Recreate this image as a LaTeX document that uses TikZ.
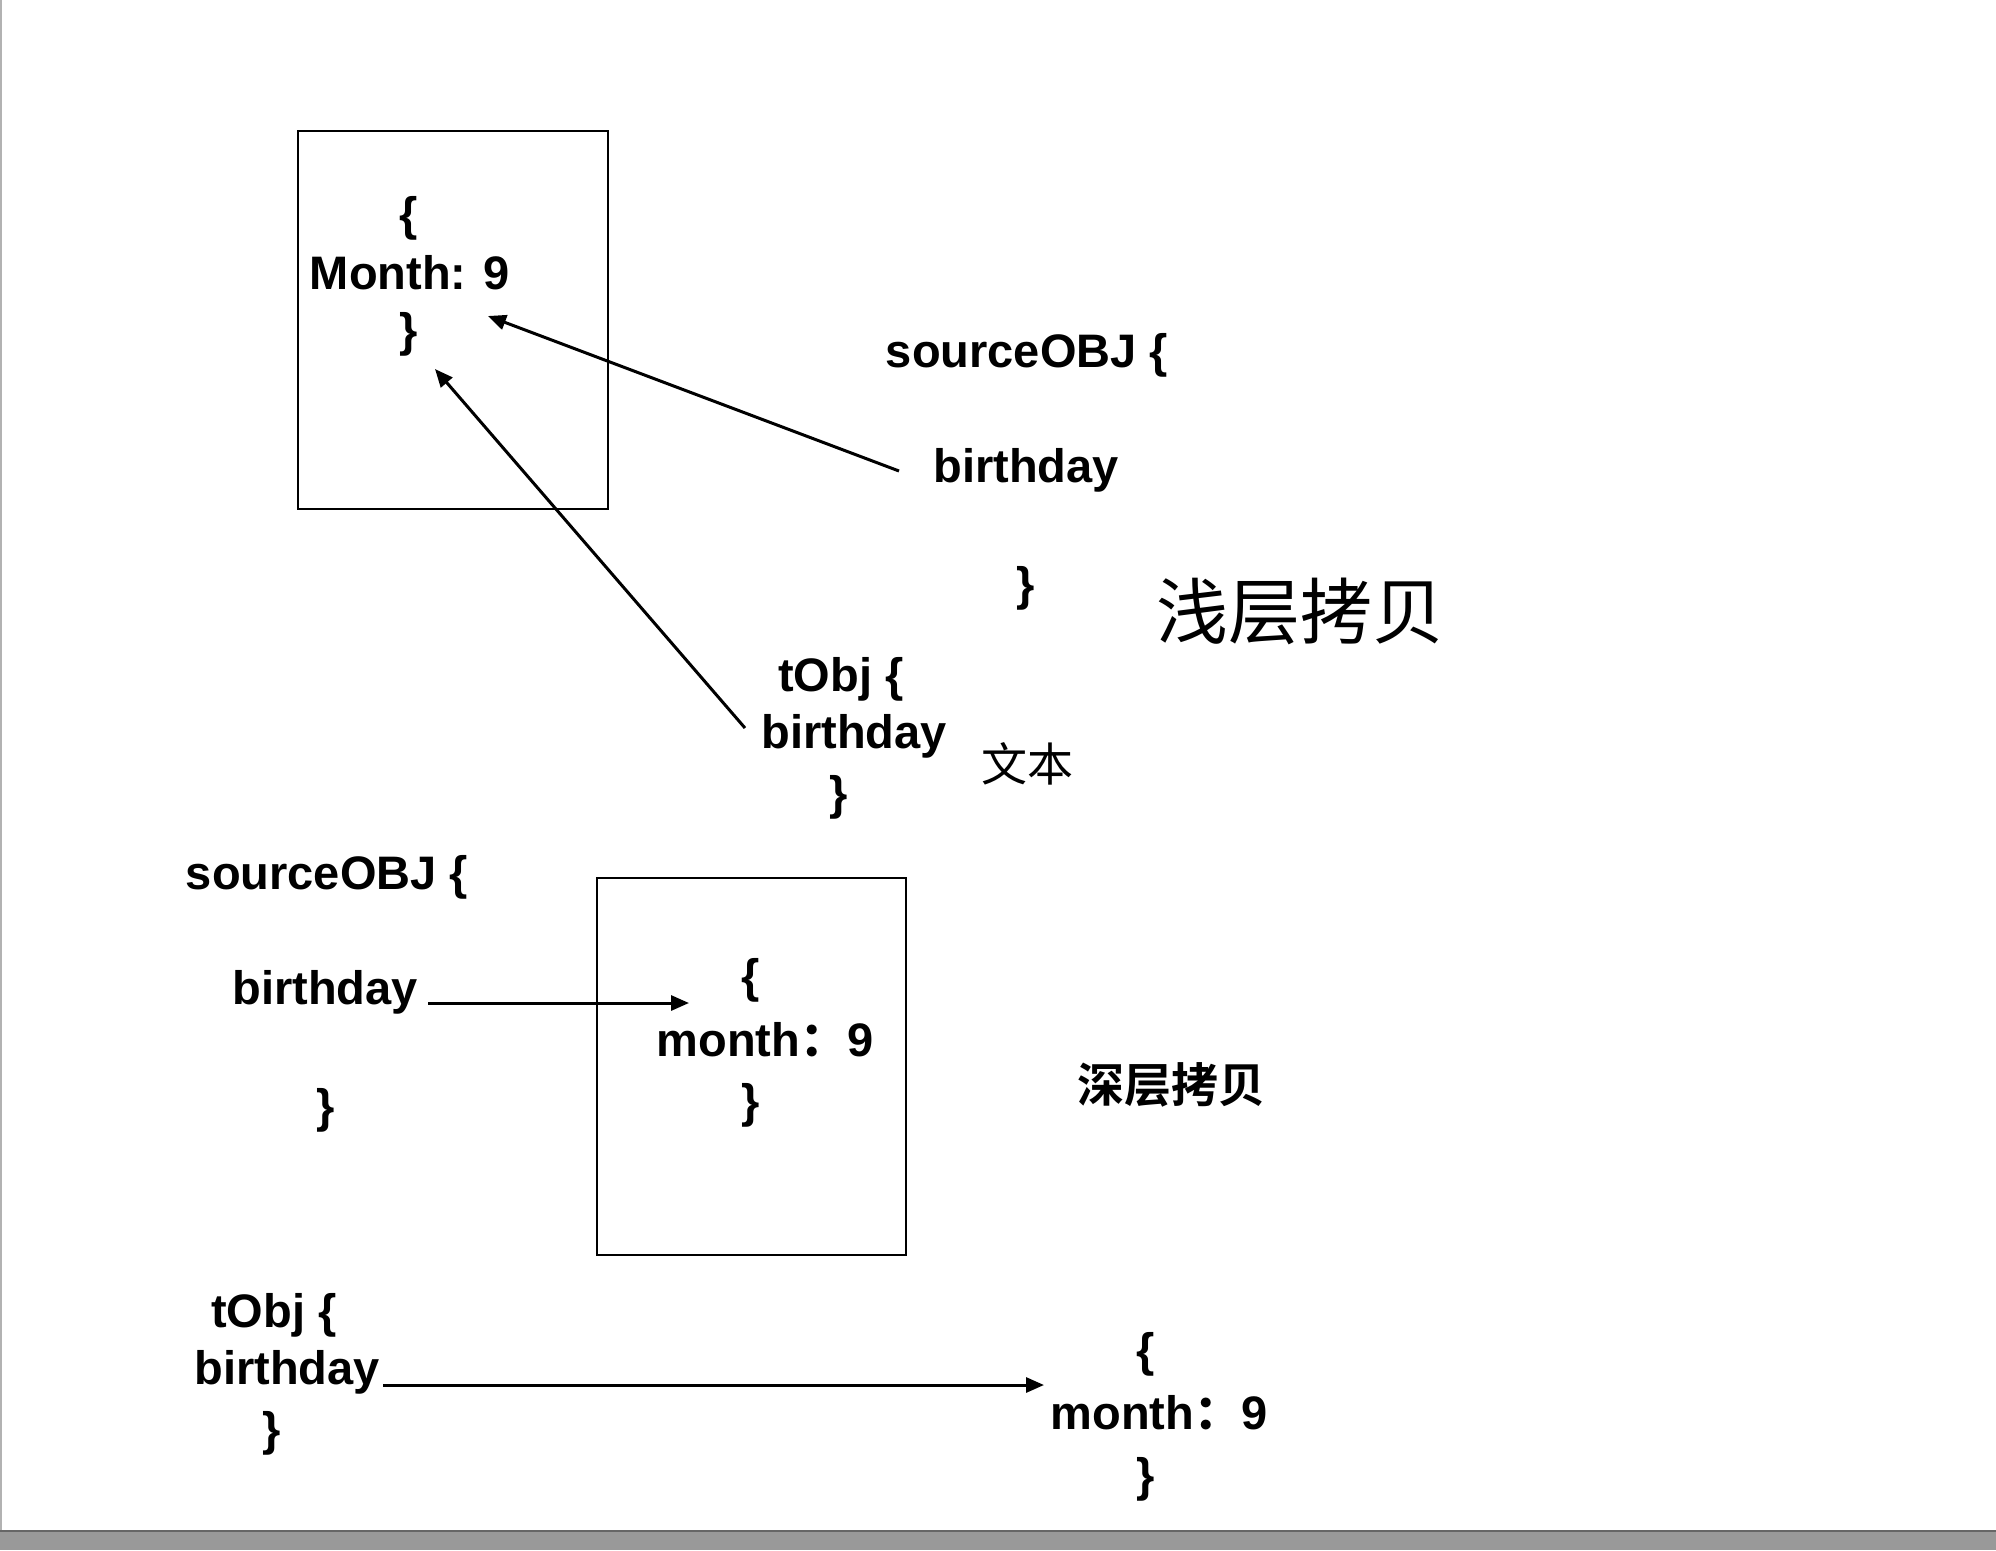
\documentclass[tikz,border=0pt]{standalone}
\usepackage{fontspec}
\setmainfont{Liberation Sans}
\newfontfamily\cjk{Noto Sans CJK SC}
\newfontfamily\cjkb{Noto Sans CJK SC Bold}
\usetikzlibrary{arrows.meta}
\begin{document}
\begin{tikzpicture}[x=1pt,y=-1pt,
  txt/.style={inner sep=0pt,font=\fontsize{47}{56}\selectfont\bfseries},
  bigcn/.style={inner sep=0pt,font=\fontsize{72}{80}\selectfont\cjk},
  cn/.style={inner sep=0pt,font=\fontsize{46}{54}\selectfont\cjk},
  cnb/.style={inner sep=0pt,font=\fontsize{47}{54}\selectfont\cjkb},
  membox/.style={line width=2pt},
  ptr/.style={line width=3pt,-{Triangle[length=18pt,width=15pt]}}]
\useasboundingbox (0,0) rectangle (1996,1550);
\fill[white] (0,0) rectangle (1996,1550);
\fill[black!40] (0,1530) rectangle (1996,1550);
\draw[black!60,line width=2pt] (0,1531) -- (1996,1531);
\fill[black!30] (0,0) rectangle (2,1530);
% top section
\draw[membox] (298,131) rectangle (608,509);
\node[txt] (b1o) at (409,218) {\{};
\node[txt] (m1) at (410,273) {Month: 9};
\node[txt] (b1c) at (409,334) {\}};
\coordinate (tip1) at (488,316);
\coordinate (tip2) at (435,369);
\node[txt] (s1) at (1027,355) {sourceOBJ \{};
\node[txt] (s1b) at (1026,470) {birthday};
\node[txt] (s1c) at (1026,588) {\}};
\coordinate (tail1) at (899,471);
\node[bigcn] (shallow) at (1300,611) {浅层拷贝};
\node[txt] (t1) at (841,679) {tObj \{};
\node[txt] (t1b) at (854,736) {birthday};
\node[txt] (t1c) at (839,797) {\}};
\coordinate (tail2) at (745,728);
\node[cn] (wb) at (1027,764) {文本};
\draw[ptr] (tail1) -- (tip1);
\draw[ptr] (tail2) -- (tip2);
% bottom section
\node[txt] (s2) at (327,877) {sourceOBJ \{};
\node[txt] (s2b) at (325,992) {birthday};
\node[txt] (s2c) at (326,1110) {\}};
\draw[membox] (597,878) rectangle (906,1255);
\node[txt] (b2o) at (751,980) {\{};
\node[txt] (m2) at (765,1040) {month{\cjk：}9};
\node[txt] (b2c) at (751,1105) {\}};
\coordinate (tail3) at (428,1003);
\coordinate (tip3) at (689,1003);
\draw[ptr] (tail3) -- (tip3);
\node[cnb] (deep) at (1171,1085) {深层拷贝};
\node[txt] (t2) at (274,1315) {tObj \{};
\node[txt] (t2b) at (287,1372) {birthday};
\node[txt] (t2c) at (272,1433) {\}};
\node[txt] (b3o) at (1146,1354) {\{};
\node[txt] (m3) at (1159,1413) {month{\cjk：}9};
\node[txt] (b3c) at (1146,1479) {\}};
\coordinate (tail4) at (383,1385);
\coordinate (tip4) at (1044,1385);
\draw[ptr] (tail4) -- (tip4);
\end{tikzpicture}
\end{document}
